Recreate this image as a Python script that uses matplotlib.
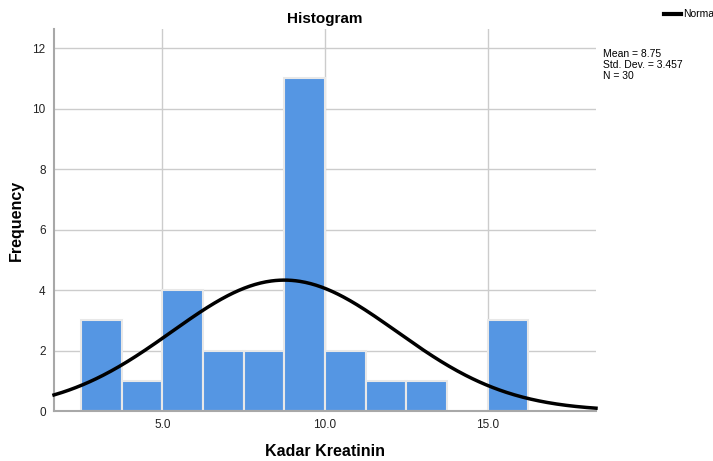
import numpy as np
import matplotlib
matplotlib.use("Agg")
import matplotlib.pyplot as plt

plt.rcParams['font.family'] = ['Liberation Sans', 'DejaVu Sans']

# Histogram of creatinine levels (bin edges and counts)
bin_edges = [2.5, 3.75, 5.0, 6.25, 7.5, 8.75, 10.0, 11.25, 12.5, 13.75, 15.0, 16.25]
counts = [3, 1, 4, 2, 2, 11, 2, 1, 1, 0, 3]
mean = 8.75
std_dev = 3.457
n = 30
x_ticks = [5.0, 10.0, 15.0]
x_tick_labels = ["5.0", "10.0", "15.0"]
y_ticks = [0, 2, 4, 6, 8, 10, 12]

fig = plt.figure(figsize=(7.13, 4.61), dpi=100)
ax = fig.add_axes([54/713, 1 - 411/461, (596 - 54)/713, (411 - 29)/461])

xmin, xmax = 1.67, 18.33
ax.set_xlim(xmin, xmax)
ax.set_ylim(0, 12.63)

ax.set_axisbelow(True)
ax.grid(True, color='#cccccc', linewidth=1.0)
for s in ['top', 'right']:
    ax.spines[s].set_visible(False)
for s in ['left', 'bottom']:
    ax.spines[s].set_color('#a8a8a8')
    ax.spines[s].set_linewidth(1.5)

widths = np.diff(bin_edges)
ax.bar(bin_edges[:-1], counts, width=widths, align='edge',
       color='#5596e3', edgecolor='#e8e8e8', linewidth=1.5, zorder=2)

# Fitted normal curve scaled to counts
bw = widths[0]
xs = np.linspace(xmin, xmax, 400)
ys = n * bw / (std_dev * np.sqrt(2 * np.pi)) * np.exp(-0.5 * ((xs - mean) / std_dev) ** 2)
ax.plot(xs, ys, color='black', linewidth=2.5, zorder=3, clip_on=False)

ax.set_xticks(x_ticks)
ax.set_xticklabels(x_tick_labels)
ax.set_yticks(y_ticks)
ax.tick_params(length=0, labelsize=8.5, colors='#222222', pad=6)

ax.set_title("Histogram", fontsize=11, fontweight='bold', pad=4)
ax.set_xlabel("Kadar Kreatinin", fontsize=11.5, fontweight='bold', labelpad=9)
ax.set_ylabel("Frequency", fontsize=11.5, fontweight='bold', labelpad=6)

# Legend entry and summary statistics
fig.lines.append(plt.Line2D([664/713, 681/713], [1 - 14/461, 1 - 14/461],
                            transform=fig.transFigure, color='black', linewidth=3))
fig.text(683/713, 1 - 14/461, "Normal", fontsize=7.5, va='center', ha='left')
fig.text(603/713, 1 - 49/461,
         f"Mean = {mean}\nStd. Dev. = {std_dev}\nN = {n}",
         fontsize=7.5, va='top', ha='left', linespacing=1.1)

fig.savefig("out.png", dpi=100)
